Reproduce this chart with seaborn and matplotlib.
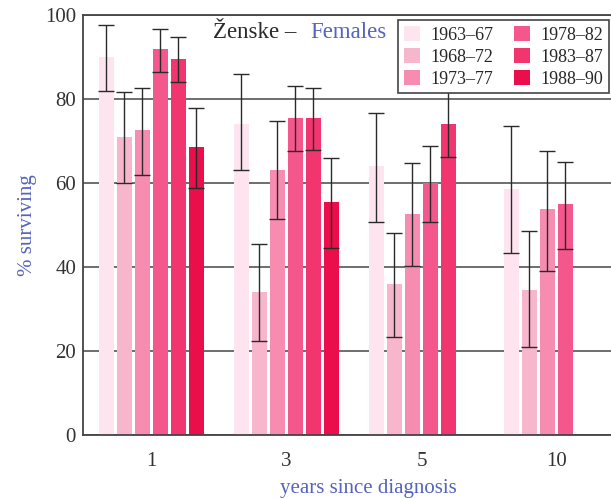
import numpy as np
import pandas as pd
import matplotlib
matplotlib.use("Agg")
import matplotlib.pyplot as plt
import seaborn as sns

# Years since diagnosis (x categories) and diagnosis periods (hue)
years = ["1", "3", "5", "10"]
periods = ["1963–67", "1968–72", "1973–77", "1978–82", "1983–87", "1988–90"]

# Relative survival (%) per period at 1, 3, 5, 10 years
surv_1963 = [90.0, 74.0, 64.0, 58.5]
surv_1968 = [71.0, 34.0, 36.0, 34.5]
surv_1973 = [72.5, 63.0, 52.5, 53.8]
surv_1978 = [92.0, 75.5, 60.0, 55.0]
surv_1983 = [89.5, 75.5, 74.0, np.nan]
surv_1988 = [68.5, 55.5, np.nan, np.nan]

# Confidence interval bounds
low_1963 = [82.0, 63.0, 50.7, 43.3]
high_1963 = [97.5, 86.0, 76.7, 73.6]
low_1968 = [60.0, 22.4, 23.3, 21.0]
high_1968 = [81.7, 45.5, 48.0, 48.6]
low_1973 = [62.0, 51.4, 40.3, 39.0]
high_1973 = [82.6, 74.8, 64.8, 67.6]
low_1978 = [86.4, 67.6, 50.7, 44.3]
high_1978 = [96.7, 83.1, 68.8, 65.0]
low_1983 = [84.0, 67.9, 66.2, np.nan]
high_1983 = [94.8, 82.6, 81.7, np.nan]
low_1988 = [58.8, 44.5, np.nan, np.nan]
high_1988 = [77.9, 66.0, np.nan, np.nan]

colors = ["#fde4ee", "#f8b6cd", "#f68db1", "#f4578c", "#f1356f", "#ea0e4a"]

surv = [surv_1963, surv_1968, surv_1973, surv_1978, surv_1983, surv_1988]
lows = [low_1963, low_1968, low_1973, low_1978, low_1983, low_1988]
highs = [high_1963, high_1968, high_1973, high_1978, high_1983, high_1988]

rows = []
for p, s, lo, hi in zip(periods, surv, lows, highs):
    for y, v, l, h in zip(years, s, lo, hi):
        rows.append({"years": y, "period": p, "surv": v, "low": l, "high": h})
df = pd.DataFrame(rows)

sns.set_theme(style="white")
plt.rcParams["font.family"] = ["Liberation Serif", "DejaVu Serif"]

fig = plt.figure(figsize=(6.11, 4.98), dpi=100)
ax = fig.add_axes([83 / 611, 1 - 435 / 498, 528 / 611, 420 / 498])

sns.barplot(data=df.dropna(subset=["surv"]), x="years", y="surv", hue="period",
            order=years, hue_order=periods, palette=colors, errorbar=None,
            width=0.8, gap=0.15, saturation=1, linewidth=0, ax=ax)

# Confidence intervals drawn at each bar's centre
bar_containers = list(ax.containers)
for i, cont in enumerate(bar_containers):
    sub = df[df["period"] == periods[i]].reset_index(drop=True)
    for bar in cont:
        xc = bar.get_x() + bar.get_width() / 2
        gi = int(round(xc))
        lo, hi, v = sub.loc[gi, "low"], sub.loc[gi, "high"], sub.loc[gi, "surv"]
        if np.isnan(lo):
            continue
        ax.errorbar([xc], [v], yerr=[[v - lo], [hi - v]], fmt="none",
                    ecolor="#2a2a2a", elinewidth=1.0, capsize=5.5, capthick=1.0,
                    zorder=4)

ax.set_xlim(-0.507, 3.404)
ax.set_ylim(0, 100)
ax.set_yticks([0, 20, 40, 60, 80, 100])
ax.set_axisbelow(True)
ax.yaxis.grid(True, color="#555555", linewidth=1.2)
ax.xaxis.grid(False)

for side in ["left", "bottom", "top"]:
    ax.spines[side].set_color("#444444")
    ax.spines[side].set_linewidth(1.3)
ax.spines["right"].set_visible(False)

ax.tick_params(axis="y", length=0, pad=5, labelsize=15, labelcolor="#333333")
ax.tick_params(axis="x", length=0, pad=12, labelsize=15, labelcolor="#333333")

blue = "#5563bd"
ax.set_ylabel("% surviving", fontsize=15, color=blue)
ax.yaxis.set_label_coords(-0.088, 0.5)
ax.set_xlabel("years since diagnosis", fontsize=15, color=blue)
ax.xaxis.set_label_coords(0.54, -0.105)

# Panel heading: local name in dark grey, English in blue
fig.text(213 / 611, 1 - 33 / 498, "Ženske –", fontsize=16.5, color="#2a2a2a",
         ha="left", va="center")
fig.text(310 / 611, 1 - 33 / 498, "Females", fontsize=16.5, color=blue,
         ha="left", va="center")

handles, labels = ax.get_legend_handles_labels()
ax.legend(handles, labels, ncol=2, loc="upper right",
          bbox_to_anchor=(0.996, 0.987), borderaxespad=0, fontsize=13,
          frameon=True, fancybox=False, edgecolor="#444444",
          handlelength=0.9, handleheight=0.9, handletextpad=0.6,
          columnspacing=1.1, labelspacing=0.25, borderpad=0.3,
          framealpha=1)
ax.get_legend().get_frame().set_linewidth(1.2)

fig.savefig("out.png", dpi=100, facecolor="white")
